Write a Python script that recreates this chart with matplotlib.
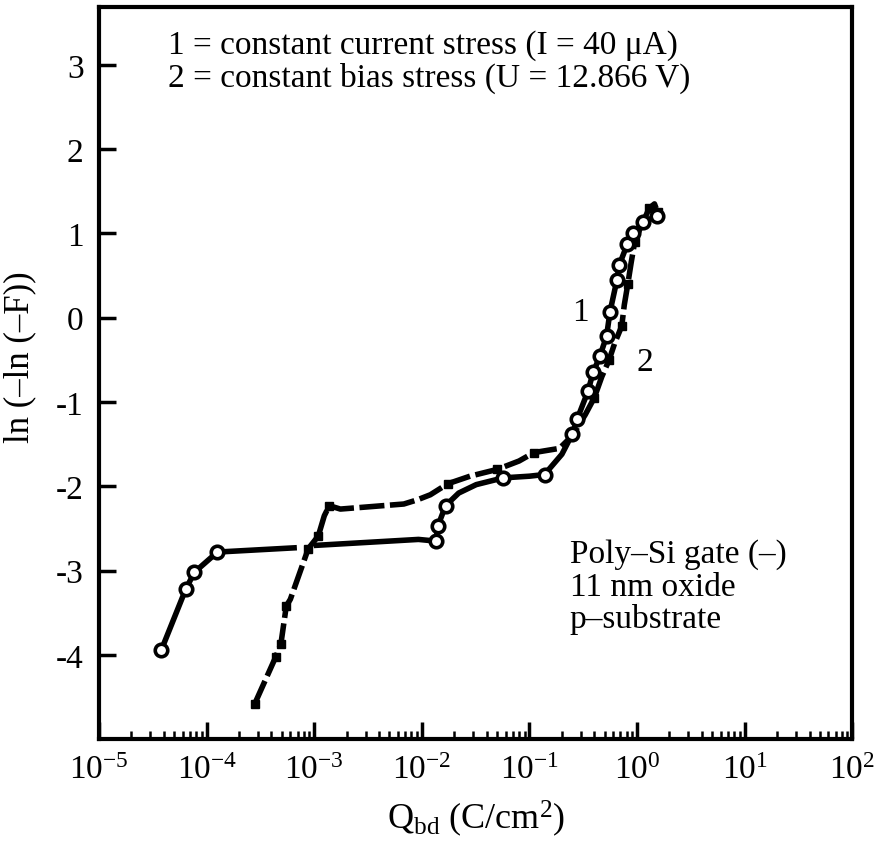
import numpy as np
import matplotlib
matplotlib.use('Agg')
import matplotlib.pyplot as plt
from matplotlib.ticker import LogLocator, NullFormatter

plt.rcParams['font.family'] = ['Liberation Serif', 'DejaVu Serif']
plt.rcParams['mathtext.fontset'] = 'custom'
plt.rcParams['mathtext.rm'] = 'Liberation Serif'
plt.rcParams['mathtext.it'] = 'Liberation Serif:italic'

# curve 1: constant current stress (open circles); nan = break in the line
q1 = [3.8e-5, 6.4e-5, 7.7e-5, 1.26e-4, 6.5e-4, np.nan, 1.05e-3, 9.3e-3,
      1.35e-2, 1.41e-2, 1.66e-2, 2.2e-2, 3.2e-2, 5.7e-2, 1.0e-1, 1.38e-1,
      2.0e-1, 2.5e-1, 2.78e-1, 3.5e-1, 3.9e-1, 4.5e-1, 5.2e-1, 5.6e-1,
      6.5e-1, 6.8e-1, 8.1e-1, 9.2e-1, 1.14, 1.53]
w1 = [-3.94, -3.22, -3.02, -2.78, -2.73, np.nan, -2.70, -2.63,
      -2.65, -2.47, -2.23, -2.08, -1.98, -1.90, -1.88, -1.86,
      -1.62, -1.38, -1.20, -0.87, -0.65, -0.46, -0.22, 0.07,
      0.45, 0.62, 0.87, 1.00, 1.13, 1.21]
circ1 = [0, 1, 2, 3, 8, 9, 10, 13, 15, 17, 18, 19, 20, 21, 22, 23, 24, 25,
         26, 27, 28, 29]

# curve 2: constant bias stress (filled squares)
q2 = [2.8e-4, 4.4e-4, 4.9e-4, 5.5e-4, 6.0e-4, 8.8e-4, 1.09e-3, 1.24e-3,
      1.38e-3, 1.75e-3, 6.8e-3, 9.1e-3, 1.2e-2, 1.74e-2, 2.8e-2, 5.0e-2,
      8.0e-2, 1.1e-1, 1.9e-1, 2.5e-1, 3.3e-1, 4.0e-1, 4.7e-1, 5.5e-1,
      6.2e-1, 7.2e-1, 7.6e-1, 8.2e-1, 8.8e-1, 9.5e-1, 1.1, 1.3, 1.45,
      1.55, 1.6]
w2 = [-4.58, -4.02, -3.87, -3.42, -3.34, -2.74, -2.59, -2.35,
      -2.23, -2.27, -2.21, -2.16, -2.10, -1.97, -1.88, -1.80,
      -1.70, -1.60, -1.55, -1.40, -1.15, -0.95, -0.70, -0.50,
      -0.30, -0.10, 0.15, 0.40, 0.65, 0.90, 1.10, 1.30, 1.35,
      1.25, 1.15]
sq2 = [0, 1, 2, 3, 5, 6, 8, 13, 15, 17, 19, 21, 23, 25, 27, 29, 31, 33]

x_decades = [1e-5, 1e-4, 1e-3, 1e-2, 1e-1, 1e0, 1e1, 1e2]
x_labels = [r'$\mathregular{10^{-5}}$', r'$\mathregular{10^{-4}}$',
            r'$\mathregular{10^{-3}}$', r'$\mathregular{10^{-2}}$',
            r'$\mathregular{10^{-1}}$', r'$\mathregular{10^{0}}$',
            r'$\mathregular{10^{1}}$', r'$\mathregular{10^{2}}$']

legend_lines = ['1 = constant current stress (I = 40 μA)',
                '2 = constant bias stress (U = 12.866 V)']
sample_lines = ['Poly–Si gate (–)', '11 nm oxide', 'p–substrate']

fig = plt.figure(figsize=(8.76, 8.45), dpi=100)
ax = fig.add_axes([0.113, 0.124, 0.860, 0.866])

ax.plot(q2, w2, color='black', lw=4, linestyle=(0, (4.5, 1)),
        marker='s', markersize=6, markevery=sq2,
        mfc='black', mec='black')
ax.plot(q1, w1, color='black', lw=4, marker='o', markersize=9,
        mfc='white', mec='black', mew=2.6, markevery=circ1)

ax.set_xscale('log')
ax.set_xlim(1e-5, 1e2)
ax.set_ylim(-5.0, 3.68)
ax.set_yticks([-4, -3, -2, -1, 0, 1, 2, 3])
ax.set_yticklabels(['-4', '-3', '-2', '-1', '0', '1', '2', '3'])
ax.set_xticks(x_decades)
ax.set_xticklabels(x_labels)
ax.xaxis.set_minor_locator(LogLocator(base=10, subs=np.arange(2, 10),
                                      numticks=100))
ax.xaxis.set_minor_formatter(NullFormatter())

ax.tick_params(axis='both', which='major', direction='in', length=12,
               width=2.5, labelsize=24, pad=11)
ax.tick_params(axis='x', which='minor', direction='in', length=6,
               width=1.8)
ax.tick_params(top=False, right=False, which='both')
for s in ax.spines.values():
    s.set_linewidth(3)

ax.set_xlabel(r'Q$_{\mathregular{bd}}$ (C/cm$^{\mathregular{2}}$)',
              fontsize=26, labelpad=9)
ax.set_ylabel('ln (–ln (–F))', fontsize=25)
ax.yaxis.set_label_coords(-0.083, 0.523)

for i, line in enumerate(legend_lines):
    ax.text(0.091, 0.949 - 0.045 * i, line, transform=ax.transAxes,
            fontsize=24, va='center', ha='left')
for i, line in enumerate(sample_lines):
    ax.text(0.625, 0.253 - 0.044 * i, line, transform=ax.transAxes,
            fontsize=24, va='center', ha='left')
ax.text(0.296, 0.076, '1', fontsize=24, ha='center', va='center')
ax.text(1.19, -0.52, '2', fontsize=24, ha='center', va='center')

fig.savefig('out.png', dpi=100)
